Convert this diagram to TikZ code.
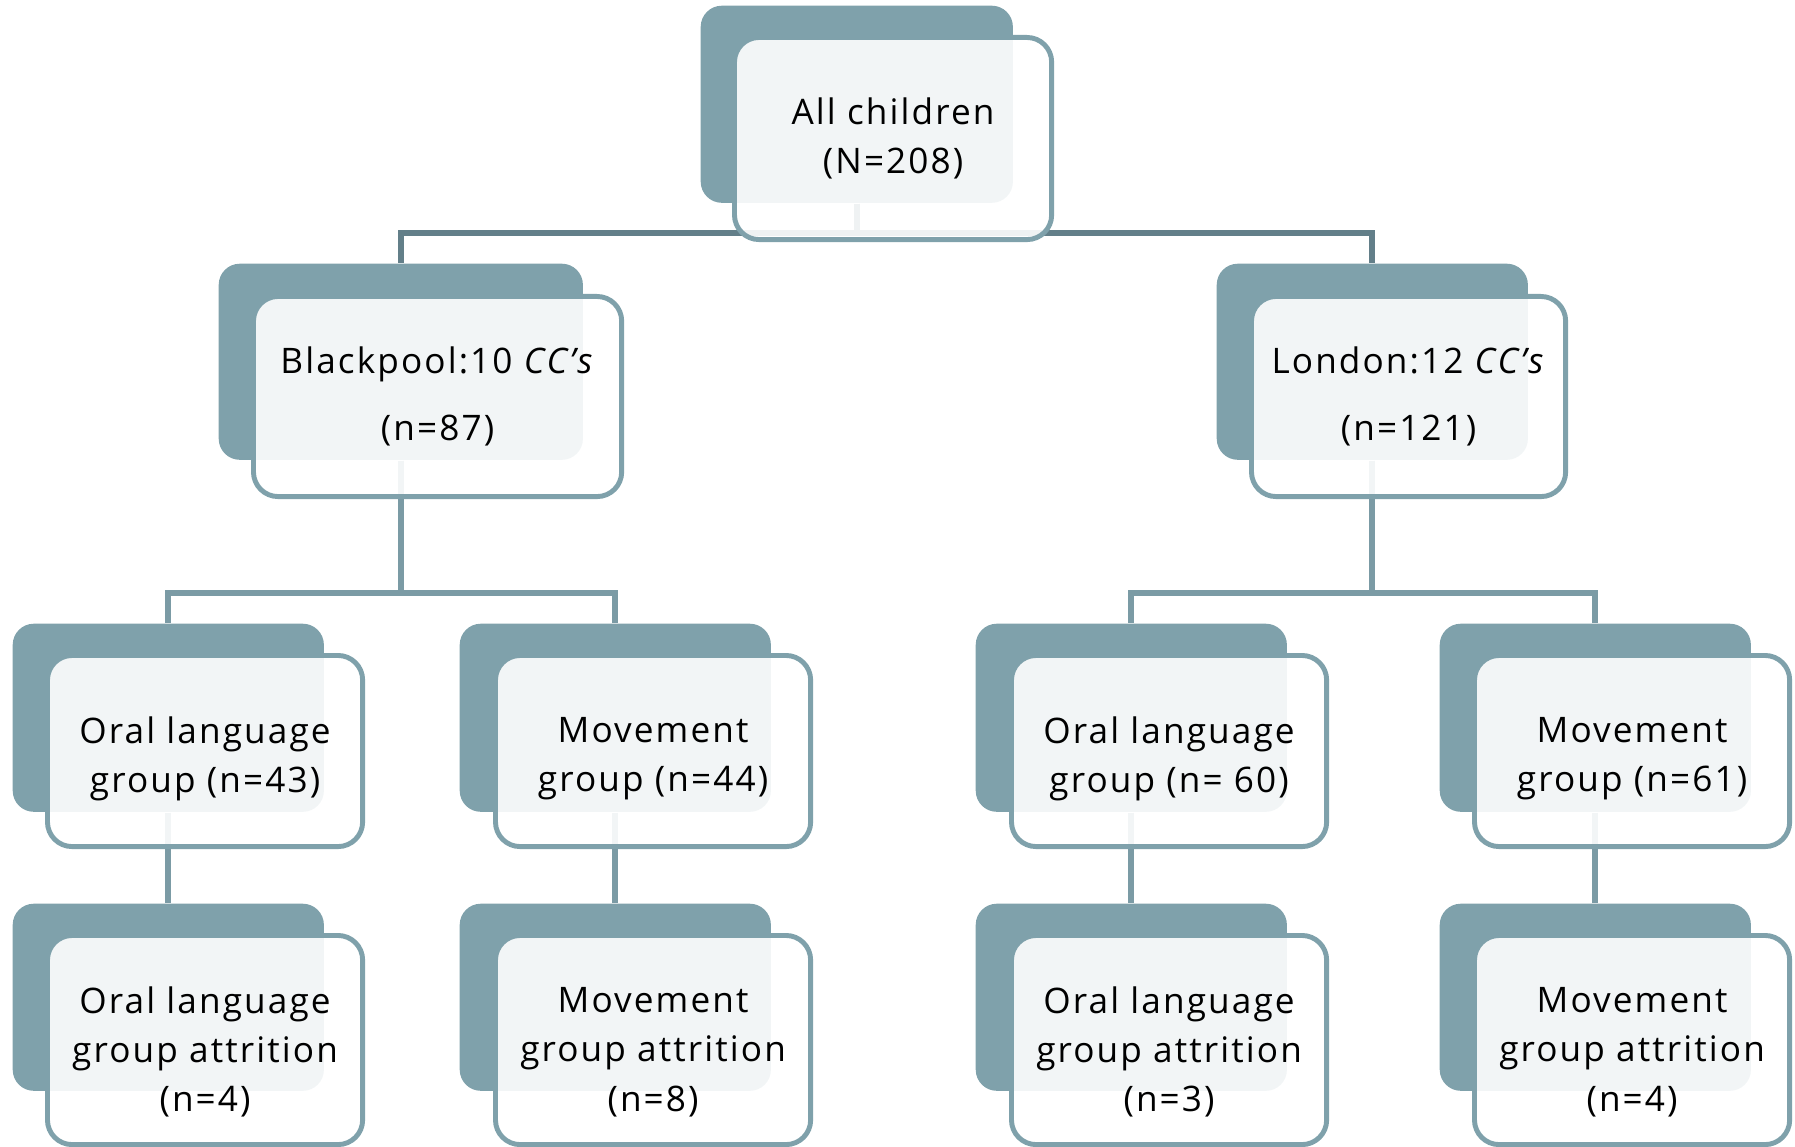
\documentclass[tikz,border=0pt]{standalone}
\usepackage{fontspec}
\setmainfont{Open Sans}[LetterSpace=6]
\usetikzlibrary{calc}
\definecolor{mTeal}{HTML}{7FA1AB}
\definecolor{mSlate}{HTML}{637F89}
\definecolor{mLine}{HTML}{7B9BA5}
\tikzset{
  backbox/.style={fill=mTeal, draw=none, rounded corners=6pt, anchor=north west, inner sep=0pt},
  frontbox/.style={fill=white, fill opacity=0.9, draw=mTeal, line width=1.4pt,
    rounded corners=7pt, anchor=north west, inner sep=0pt},
  boxtext/.style={align=center, inner sep=0pt, font=\fontsize{10}{14}\selectfont},
  link/.style={line width=1.7pt, mLine},
}

\begin{document}
\begin{tikzpicture}[x=0.01cm, y=-0.01cm]
  \useasboundingbox (0,0) rectangle (1795,1146);
  \clip (0,0) rectangle (1795,1146);
  % back boxes
  \node[backbox, minimum width=3.12cm, minimum height=1.97cm] (all-b) at (700,5) {};
  \node[backbox, minimum width=3.64cm, minimum height=1.96cm] (bp-b) at (218,263) {};
  \node[backbox, minimum width=3.11cm, minimum height=1.96cm] (ld-b) at (1216,263) {};
  \foreach \nm/\x in {bpOral/12, bpMove/459, ldOral/975, ldMove/1439} {
    \node[backbox, minimum width=3.11cm, minimum height=1.88cm] (\nm-b) at (\x,623) {};
    \node[backbox, minimum width=3.11cm, minimum height=1.87cm] (\nm-att-b) at (\x,903) {};
  }
  % connectors
  \draw[link, mSlate] (all-b.south) -- ++(0,29) -| (bp-b.north);
  \draw[link, mSlate] (all-b.south) -- ++(0,29) -| (ld-b.north);
  \draw[link] (bp-b.south) -- ++(0,132) -| (bpOral-b.north);
  \draw[link] (bp-b.south) -- ++(0,132) -| (bpMove-b.north);
  \draw[link] (ld-b.south) -- ++(0,132) -| (ldOral-b.north);
  \draw[link] (ld-b.south) -- ++(0,132) -| (ldMove-b.north);
  \foreach \nm in {bpOral, bpMove, ldOral, ldMove}
    \draw[link] (\nm-b.south) -- (\nm-att-b.north);
  % front boxes
  \node[frontbox, minimum width=3.17cm, minimum height=2.02cm] (all) at (732,35) {};
  \node[frontbox, minimum width=3.68cm, minimum height=2.00cm] (bp) at (251,294) {};
  \node[frontbox, minimum width=3.14cm, minimum height=2.00cm] (ld) at (1249,294) {};
  \foreach \nm/\x in {bpOral/45, bpMove/493, ldOral/1009, ldMove/1472} {
    \node[frontbox, minimum width=3.15cm, minimum height=1.91cm] (\nm) at (\x,653) {};
    \node[frontbox, minimum width=3.15cm, minimum height=2.09cm] (\nm-att) at (\x,933) {};
  }
  % texts
  \node[boxtext] (all-t) at (all.center) {All children\\(N=208)};
  \node[boxtext] (bp-t) at (bp.center) {Blackpool:10 \textit{CC’s}\\[5pt](n=87)};
  \node[boxtext] (ld-t) at (ld.center) {London:12 \textit{CC’s}\\[5pt](n=121)};
  \node[boxtext] (bpOral-t) at ($(bpOral.center)+(0,8)$) {Oral language\\group (n=43)};
  \node[boxtext] (bpMove-t) at ($(bpMove.center)+(0,8)$) {Movement\\group (n=44)};
  \node[boxtext] (ldOral-t) at ($(ldOral.center)+(0,8)$) {Oral language\\group (n= 60)};
  \node[boxtext] (ldMove-t) at ($(ldMove.center)+(0,8)$) {Movement\\group (n=61)};
  \node[boxtext] (bpOral-att-t) at ($(bpOral-att.center)+(0,12)$) {Oral language\\group attrition\\(n=4)};
  \node[boxtext] (bpMove-att-t) at ($(bpMove-att.center)+(0,12)$) {Movement\\group attrition\\(n=8)};
  \node[boxtext] (ldOral-att-t) at ($(ldOral-att.center)+(0,12)$) {Oral language\\group attrition\\(n=3)};
  \node[boxtext] (ldMove-att-t) at ($(ldMove-att.center)+(0,12)$) {Movement\\group attrition\\(n=4)};
\end{tikzpicture}
\end{document}
